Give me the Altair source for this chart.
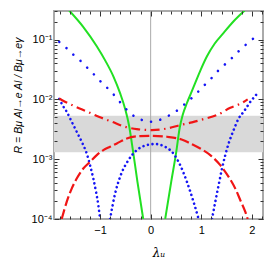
import altair as alt
import pandas as pd

# ---- axis ranges / ticks ----
x_domain = [-1.91, 2.22]
y_domain = [1e-4, 0.3]
x_major = [-1, 0, 1, 2]
x_minor = [-1.8, -1.6, -1.4, -1.2, -0.8, -0.6, -0.4, -0.2, 0.2, 0.4, 0.6, 0.8,
           1.2, 1.4, 1.6, 1.8, 2.2]
y_major = [1e-4, 1e-3, 1e-2, 1e-1]
y_major_labels = ["10⁻⁴", "10⁻³", "10⁻²", "10⁻¹"]
y_minor = [m * d for d in [1e-4, 1e-3, 1e-2] for m in range(2, 10)] + [0.2, 0.3]

# ---- shaded band ----
band_low = [1.30e-3]
band_high = [5.3e-3]

# ---- curves (lambda_U, R) ----
green_l_x = [-1.61, -1.337, -1.065, -0.891, -0.737, -0.604, -0.505, -0.426, -0.352,
             -0.261, -0.147]
green_l_y = [0.306, 0.165, 0.0773, 0.0436, 0.0243, 0.01268, 0.00698, 0.00362,
             0.001435, 0.000417, 0.0001]
green_r_x = [0.287, 0.406, 0.505, 0.574, 0.634, 0.717, 0.802, 0.881, 0.990, 1.113,
             1.267, 1.442, 1.644, 1.857]
green_r_y = [0.0001, 0.000417, 0.00131, 0.00335, 0.00553, 0.00869, 0.01294, 0.0188,
             0.0314, 0.0525, 0.0857, 0.1294, 0.204, 0.306]

blue1_x = [-1.806, -1.659, -1.515, -1.370, -1.232, -1.093, -0.960, -0.822, -0.677,
           -0.545, -0.406, -0.273, -0.143, 0.004, 0.154, 0.301, 0.451, 0.618,
           0.782, 0.915, 1.046, 1.192, 1.331, 1.470, 1.608, 1.747, 1.891, 2.036]
blue1_y = [0.0914, 0.0714, 0.0546, 0.0428, 0.0323, 0.0247, 0.0188, 0.0145, 0.01067,
           0.00783, 0.00592, 0.00488, 0.00445, 0.00423, 0.00445, 0.00507, 0.00586,
           0.00762, 0.0100, 0.0128, 0.0167, 0.0222, 0.0299, 0.0385, 0.0493, 0.0647,
           0.0834, 0.105]

blue2a_x = [-1.806, -1.727, -1.659, -1.560, -1.461, -1.362, -1.263, -1.198, -1.133,
            -1.079, -1.034, -1.0]
blue2a_y = [0.01014, 0.00762, 0.00621, 0.00423, 0.00287, 0.00195, 0.00124, 0.000794,
            0.000474, 0.000284, 0.000170, 0.0001]
blue2b_x = [-0.802, -0.703, -0.604, -0.440, -0.273, -0.075, 0.089, 0.287, 0.451,
            0.584, 0.717, 0.848, 0.947]
blue2b_y = [0.0001, 0.000265, 0.000506, 0.000964, 0.00142, 0.00172, 0.00179, 0.00161,
            0.00124, 0.000794, 0.000417, 0.000193, 0.0001]
blue2c_x = [1.212, 1.277, 1.343, 1.410, 1.475, 1.541, 1.640, 1.739, 1.838, 1.891,
            1.956, 2.036, 2.135]
blue2c_y = [0.0001, 0.000193, 0.000367, 0.000697, 0.00117, 0.00183, 0.00307, 0.00480,
            0.00621, 0.00724, 0.00879, 0.01067, 0.0133]

red_dome_x = [-1.758, -1.659, -1.560, -1.461, -1.331, -1.198, -1.065, -0.935, -0.802,
              -0.669, -0.471, -0.208, 0.024, 0.321, 0.650, 0.782, 0.980, 1.178,
              1.376, 1.541, 1.673, 1.772, 1.871, 1.917]
red_dome_y = [0.0001, 0.000193, 0.000322, 0.000474, 0.000697, 0.000902, 0.00117,
              0.00142, 0.00161, 0.00183, 0.00222, 0.00243, 0.00246, 0.00237, 0.00208,
              0.00183, 0.00151, 0.00117, 0.000794, 0.000506, 0.000322, 0.000206,
              0.000131, 0.0001]

red_dd_x = [-1.806, -1.693, -1.495, -1.263, -1.0, -0.768, -0.505, -0.273, 0.024,
            0.321, 0.584, 0.816, 1.046, 1.311, 1.574, 1.772, 1.917]
red_dd_y = [0.01035, 0.00914, 0.00762, 0.00628, 0.00502, 0.00423, 0.00348, 0.00318,
            0.00307, 0.00326, 0.00372, 0.00412, 0.00468, 0.00547, 0.00724, 0.00845,
            0.0100]

# ---- helpers ----
xs = alt.Scale(domain=x_domain, nice=False, zero=False)
ys = alt.Scale(type="log", domain=y_domain, nice=False)

FONT = "Liberation Sans"
TICK_COLOR = "#333333"

label_expr = " : ".join(
    f"datum.value < {v * 3:.6g} ? '{lab}'" for v, lab in zip(y_major, y_major_labels)
) + " : ''"


def xaxis(orient, values, size, labels=False, title=None):
    kw = dict(orient=orient, values=values, tickSize=size, offset=-size, domain=False,
              grid=False, labels=labels, ticks=True, tickColor=TICK_COLOR, zindex=1,
              tickWidth=1)
    if labels:
        kw.update(labelFont=FONT, labelFontSize=11, labelColor="black", labelPadding=5,
                  format="d")
    if title is not None:
        kw.update(title=title, titleFont="DejaVu Serif", titleFontSize=12,
                  titleFontStyle="italic", titleFontWeight="normal", titlePadding=12,
                  titleColor="black")
    else:
        kw.update(title=None)
    return alt.Axis(**kw)


def yaxis(orient, values, size, labels=False, title=None):
    kw = dict(orient=orient, values=values, tickSize=size, offset=-size, domain=False,
              grid=False, labels=labels, ticks=True, tickColor=TICK_COLOR, zindex=1,
              tickWidth=1)
    if labels:
        kw.update(labelFont=FONT, labelFontSize=11, labelColor="black", labelPadding=2,
                  labelExpr=label_expr)
    if title is not None:
        kw.update(title=title, titleFont=FONT, titleFontSize=10.5,
                  titleFontStyle="italic", titleFontWeight="normal", titlePadding=8,
                  titleColor="black", titleY=84)
    else:
        kw.update(title=None)
    return alt.Axis(**kw)


def line_df(xv, yv, seg=0):
    return pd.DataFrame({"lam": xv, "R": yv, "seg": [seg] * len(xv)})


band_df = pd.DataFrame({"x1": [x_domain[0]], "x2": [x_domain[1]],
                        "lo": band_low, "hi": band_high})
band = alt.Chart(band_df).mark_rect(color="#d9d9d9").encode(
    x=alt.X("x1:Q", scale=xs, axis=xaxis("bottom", x_major, 5, labels=True, title="λᵤ")),
    x2="x2:Q",
    y=alt.Y("lo:Q", scale=ys,
            axis=yaxis("left", y_major, 5, labels=True,
                       title="R = Bμ Al→e Al / Bμ→eγ")),
    y2="hi:Q",
)

vline_df = pd.DataFrame({"x": [0.0], "lo": [y_domain[0]], "hi": [y_domain[1]]})
vline = alt.Chart(vline_df).mark_rule(color="#aaaaaa", strokeWidth=1).encode(
    x=alt.X("x:Q", scale=xs, axis=xaxis("bottom", x_minor, 3)),
    y=alt.Y("lo:Q", scale=ys, axis=yaxis("left", y_minor, 3)),
    y2="hi:Q",
)

green_df = pd.concat([line_df(green_l_x, green_l_y, 0), line_df(green_r_x, green_r_y, 1)])
green = alt.Chart(green_df).mark_line(color="#22e022", strokeWidth=2,
                                      interpolate="monotone", clip=True).encode(
    x=alt.X("lam:Q", scale=xs, axis=xaxis("top", x_major, 5)),
    y=alt.Y("R:Q", scale=ys, axis=yaxis("right", y_major, 5)),
    detail="seg:N",
)

blue1 = alt.Chart(line_df(blue1_x, blue1_y)).mark_line(
    color="#1515f5", strokeWidth=2.6, strokeDash=[0.01, 9.5], strokeCap="round",
    interpolate="monotone", clip=True).encode(
    x=alt.X("lam:Q", scale=xs, axis=xaxis("top", x_minor, 3)),
    y=alt.Y("R:Q", scale=ys, axis=yaxis("right", y_minor, 3)),
)

blue2_df = pd.concat([line_df(blue2a_x, blue2a_y, 0), line_df(blue2b_x, blue2b_y, 1),
                      line_df(blue2c_x, blue2c_y, 2)])
blue2 = alt.Chart(blue2_df).mark_line(
    color="#1515f5", strokeWidth=2.6, strokeDash=[0.01, 4.6], strokeCap="round",
    interpolate="monotone", clip=True).encode(
    x=alt.X("lam:Q", scale=xs, axis=None),
    y=alt.Y("R:Q", scale=ys, axis=None),
    detail="seg:N",
)

red_dome = alt.Chart(line_df(red_dome_x, red_dome_y)).mark_line(
    color="#f01515", strokeWidth=2.2, strokeDash=[10, 3.5],
    interpolate="monotone", clip=True).encode(
    x=alt.X("lam:Q", scale=xs, axis=None),
    y=alt.Y("R:Q", scale=ys, axis=None),
)

red_dd = alt.Chart(line_df(red_dd_x, red_dd_y)).mark_line(
    color="#f01515", strokeWidth=2.2, strokeDash=[9, 4.5, 1.5, 4.5],
    interpolate="monotone", clip=True).encode(
    x=alt.X("lam:Q", scale=xs, axis=None),
    y=alt.Y("R:Q", scale=ys, axis=None),
)

chart = alt.layer(band, vline, green, blue1, blue2, red_dome, red_dd).resolve_axis(
    x="independent", y="independent"
).properties(
    width=209, height=208,
    autosize=alt.AutoSizeParams(type="none"),
    padding={"left": 46, "top": 3, "right": 3, "bottom": 47},
    background="white",
).configure_view(stroke="#aaaaaa", strokeWidth=2)

chart.save("out.html", embed_options={"renderer": "svg", "actions": False})
